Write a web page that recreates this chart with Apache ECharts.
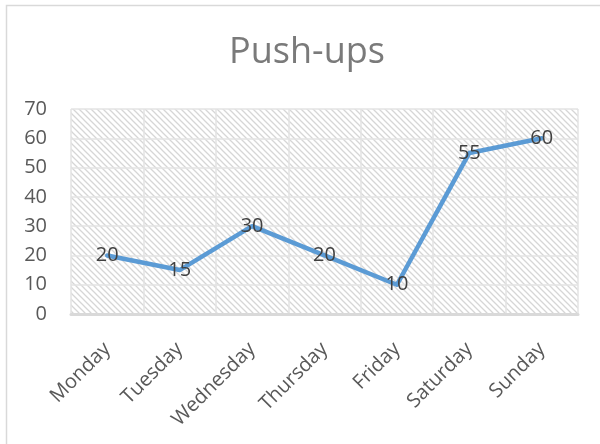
<!DOCTYPE html>
<html>
<head>
<meta charset="utf-8">
<script src="https://cdn.jsdelivr.net/npm/echarts@6/dist/echarts.min.js"></script>
<style>
  html, body { margin: 0; padding: 0; background: #fff; }
  #chart { width: 600px; height: 444px; }
</style>
</head>
<body>
<div id="chart"></div>
<script>
const days = ['Monday', 'Tuesday', 'Wednesday', 'Thursday', 'Friday', 'Saturday', 'Sunday'];
const pushups = [20, 15, 30, 20, 10, 55, 60];
const yTicks = [0, 70, 10]; // min, max, interval

// diagonal hatch for the plot area
function makeHatch() {
  const c = document.createElement('canvas');
  c.width = 6;
  c.height = 6;
  const ctx = c.getContext('2d');
  ctx.fillStyle = '#ffffff';
  ctx.fillRect(0, 0, 6, 6);
  ctx.strokeStyle = '#d6d6d6';
  ctx.lineWidth = 1.3;
  ctx.beginPath();
  ctx.moveTo(-1, -1); ctx.lineTo(7, 7);
  ctx.moveTo(-4, 2); ctx.lineTo(2, 8);
  ctx.moveTo(2, -4); ctx.lineTo(8, 2);
  ctx.stroke();
  return c;
}

const chart = echarts.init(document.getElementById('chart'), null, { renderer: 'canvas' });

chart.setOption({
  animation: false,
  graphic: [{
    type: 'rect',
    shape: { x: 6.5, y: 5.5, width: 620, height: 460 },
    style: { fill: 'none', stroke: '#d9d9d9', lineWidth: 1.5 },
    silent: true
  }],
  title: {
    text: 'Push-ups',
    left: 302,
    textAlign: 'center',
    top: 30,
    textStyle: {
      fontFamily: 'Open Sans',
      fontSize: 36,
      fontWeight: 'normal',
      color: '#7a7a7a'
    }
  },
  grid: {
    left: 71, right: 22, top: 109, bottom: 130,
    show: true,
    borderWidth: 0,
    backgroundColor: { image: makeHatch(), repeat: 'repeat' }
  },
  xAxis: {
    type: 'category',
    data: days,
    boundaryGap: true,
    axisLine: { show: true, lineStyle: { color: '#d9d9d9', width: 3 } },
    axisTick: { show: false },
    splitLine: { show: true, interval: 0, lineStyle: { color: '#e3e3e3', width: 1.5 } },
    axisLabel: {
      interval: 0,
      rotate: 45,
      margin: 32,
      fontFamily: 'Open Sans',
      fontSize: 20,
      color: '#595959'
    }
  },
  yAxis: {
    type: 'value',
    min: yTicks[0],
    max: yTicks[1],
    interval: yTicks[2],
    axisLine: { show: false },
    axisTick: { show: false },
    splitLine: { lineStyle: { color: '#e3e3e3', width: 1.5 } },
    axisLabel: {
      margin: 24,
      fontFamily: 'Open Sans',
      fontSize: 20,
      color: '#595959'
    }
  },
  series: [{
    type: 'line',
    data: pushups,
    symbol: 'circle',
    symbolSize: 1,
    showSymbol: true,
    itemStyle: { color: 'rgba(0,0,0,0)' },
    lineStyle: { color: '#5b9bd5', width: 4.5, cap: 'round', join: 'round' },
    label: {
      show: true,
      position: 'inside',
      fontFamily: 'Open Sans',
      fontSize: 20,
      color: '#404040'
    }
  }]
});
</script>
</body>
</html>
